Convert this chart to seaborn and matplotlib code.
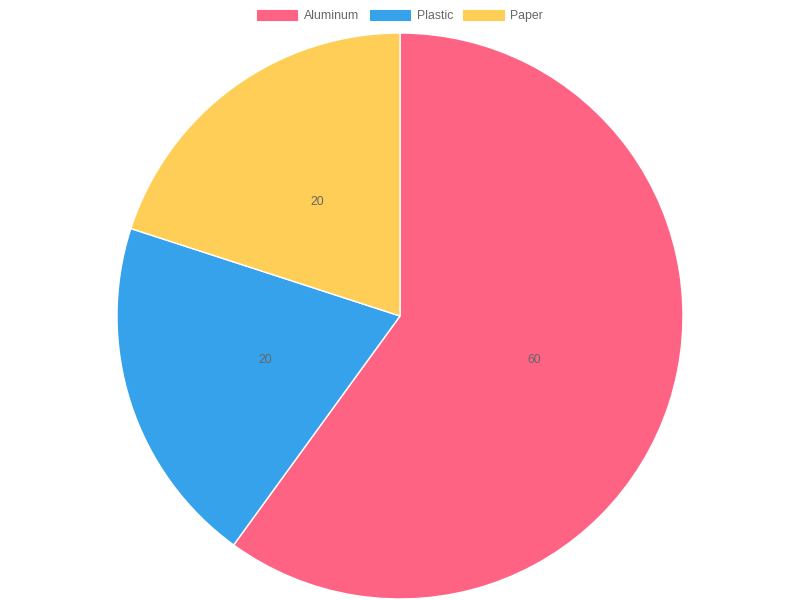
import matplotlib
matplotlib.use("Agg")
import matplotlib.pyplot as plt
import matplotlib.patches as mpatches
import seaborn as sns

categories = ["Aluminum", "Plastic", "Paper"]
values = [60, 20, 20]
colors_hex = ["#FF6384", "#36A2EB", "#FFCE56"]

sns.set_theme(style="white")
plt.rcParams["font.family"] = ["Liberation Sans", "DejaVu Sans"]
palette = sns.color_palette(colors_hex)

fig = plt.figure(figsize=(8, 6), dpi=100)
ax = fig.add_axes([117 / 800, 1 / 600, 566 / 800, 566 / 600])
total = sum(values)
wedges, texts, autotexts = ax.pie(
    values,
    colors=palette,
    startangle=90,
    counterclock=False,
    radius=1.0,
    autopct=lambda p: f"{p * total / 100:.0f}",
    pctdistance=0.5,
    wedgeprops=dict(edgecolor="white", linewidth=1),
    textprops=dict(color="#666666", fontsize=8.8),
)
ax.set_xlim(-1, 1)
ax.set_ylim(-1, 1)
ax.set_aspect("equal")
ax.axis("off")

handles = [
    mpatches.Patch(facecolor=c, edgecolor=c, linewidth=0.8, label=l)
    for c, l in zip(palette, categories)
]
leg = fig.legend(
    handles=handles,
    loc="center",
    bbox_to_anchor=(0.5, 1 - 16 / 600),
    ncol=3,
    frameon=False,
    fontsize=8.8,
    handlelength=3.3,
    handleheight=0.85,
    handletextpad=0.55,
    columnspacing=0.85,
)
for t in leg.get_texts():
    t.set_color("#666666")

fig.savefig("out.png", dpi=100)
